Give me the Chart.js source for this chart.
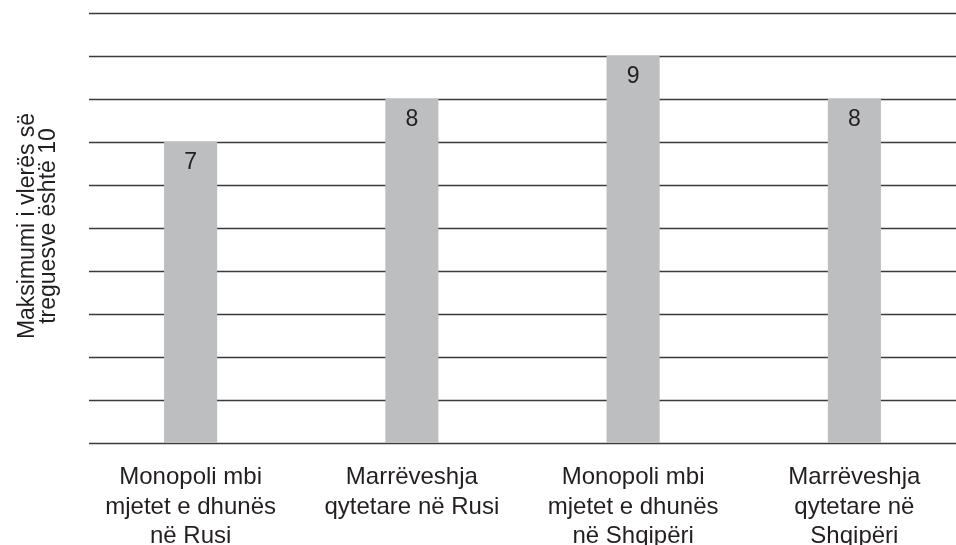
<!DOCTYPE html>
<html>
<head>
<meta charset="utf-8">
<script src="https://cdn.jsdelivr.net/npm/chart.js@4/dist/chart.umd.min.js"></script>
<style>
  html, body { margin: 0; padding: 0; background: #ffffff; overflow: hidden; width: 956px; height: 545px; }
  #wrap { position: relative; width: 965px; height: 545px; }
</style>
</head>
<body>
<div id="wrap"><canvas id="chart"></canvas></div>
<script>
// Categories (multi-line labels), values and axis title
const categories = [
  ["Monopoli mbi", "mjetet e dhunës", "në Rusi"],
  ["Marrëveshja", "qytetare në Rusi"],
  ["Monopoli mbi", "mjetet e dhunës", "në Shqipëri"],
  ["Marrëveshja", "qytetare në", "Shqipëri"]
];
const values = [7, 8, 9, 8];
const yTitleLines = ["Maksimumi i vlerës së", "treguesve është 10"];
const yMin = 0;
const yMax = 10;

const FONT = "'Liberation Sans', Arial, Helvetica, sans-serif";
const TEXT_COLOR = "#231f20";
const GRID_COLOR = "#3a3a3a";
const BAR_COLOR = "#bcbec0";

// Horizontal rules at each integer step, drawn behind the bars
const gridPlugin = {
  id: "rules",
  beforeDatasetsDraw(chart) {
    const { ctx } = chart;
    const y = chart.scales.y;
    ctx.save();
    ctx.strokeStyle = GRID_COLOR;
    ctx.lineWidth = 1.4;
    y.ticks.forEach(t => {
      const py = Math.round(y.getPixelForValue(t.value)) + 0.5;
      ctx.beginPath();
      ctx.moveTo(89, py);
      ctx.lineTo(956, py);
      ctx.stroke();
    });
    ctx.restore();
  }
};

// Value labels inside each bar and the rotated two-line axis title
const textPlugin = {
  id: "texts",
  afterDatasetsDraw(chart) {
    const { ctx, chartArea } = chart;
    const meta = chart.getDatasetMeta(0);
    ctx.save();
    ctx.fillStyle = TEXT_COLOR;
    ctx.font = "23px " + FONT;
    ctx.textAlign = "center";
    ctx.textBaseline = "middle";
    meta.data.forEach((bar, i) => {
      ctx.fillText(String(values[i]), bar.x, bar.y + 20.5);
    });
    ctx.restore();

    const cy = (chartArea.top + chartArea.bottom) / 2 - 2;
    ctx.save();
    ctx.fillStyle = TEXT_COLOR;
    ctx.font = "23px " + FONT;
    ctx.textAlign = "center";
    ctx.textBaseline = "alphabetic";
    const baselines = [34, 55];
    yTitleLines.forEach((line, i) => {
      ctx.save();
      ctx.translate(baselines[i], cy);
      ctx.rotate(-Math.PI / 2);
      ctx.fillText(line, 0, 0);
      ctx.restore();
    });
    ctx.restore();
  }
};

new Chart(document.getElementById("chart"), {
  type: "bar",
  data: {
    labels: categories,
    datasets: [{
      data: values,
      backgroundColor: BAR_COLOR,
      borderWidth: 0,
      categoryPercentage: 1,
      barPercentage: 0.24
    }]
  },
  options: {
    responsive: true,
    maintainAspectRatio: false,
    animation: false,
    events: [],
    layout: { padding: { left: 80, top: 13, right: 0, bottom: 0 } },
    plugins: {
      legend: { display: false },
      tooltip: { enabled: false }
    },
    scales: {
      x: {
        grid: { display: false, drawTicks: false },
        border: { display: false },
        afterFit(scale) { scale.height = 102; },
        ticks: {
          color: TEXT_COLOR,
          padding: 20,
          maxRotation: 0,
          autoSkip: false,
          font: { family: FONT, size: 24, lineHeight: 1.229 }
        }
      },
      y: {
        display: false,
        min: yMin,
        max: yMax,
        ticks: { stepSize: 1 }
      }
    }
  },
  plugins: [gridPlugin, textPlugin]
});
</script>
</body>
</html>
